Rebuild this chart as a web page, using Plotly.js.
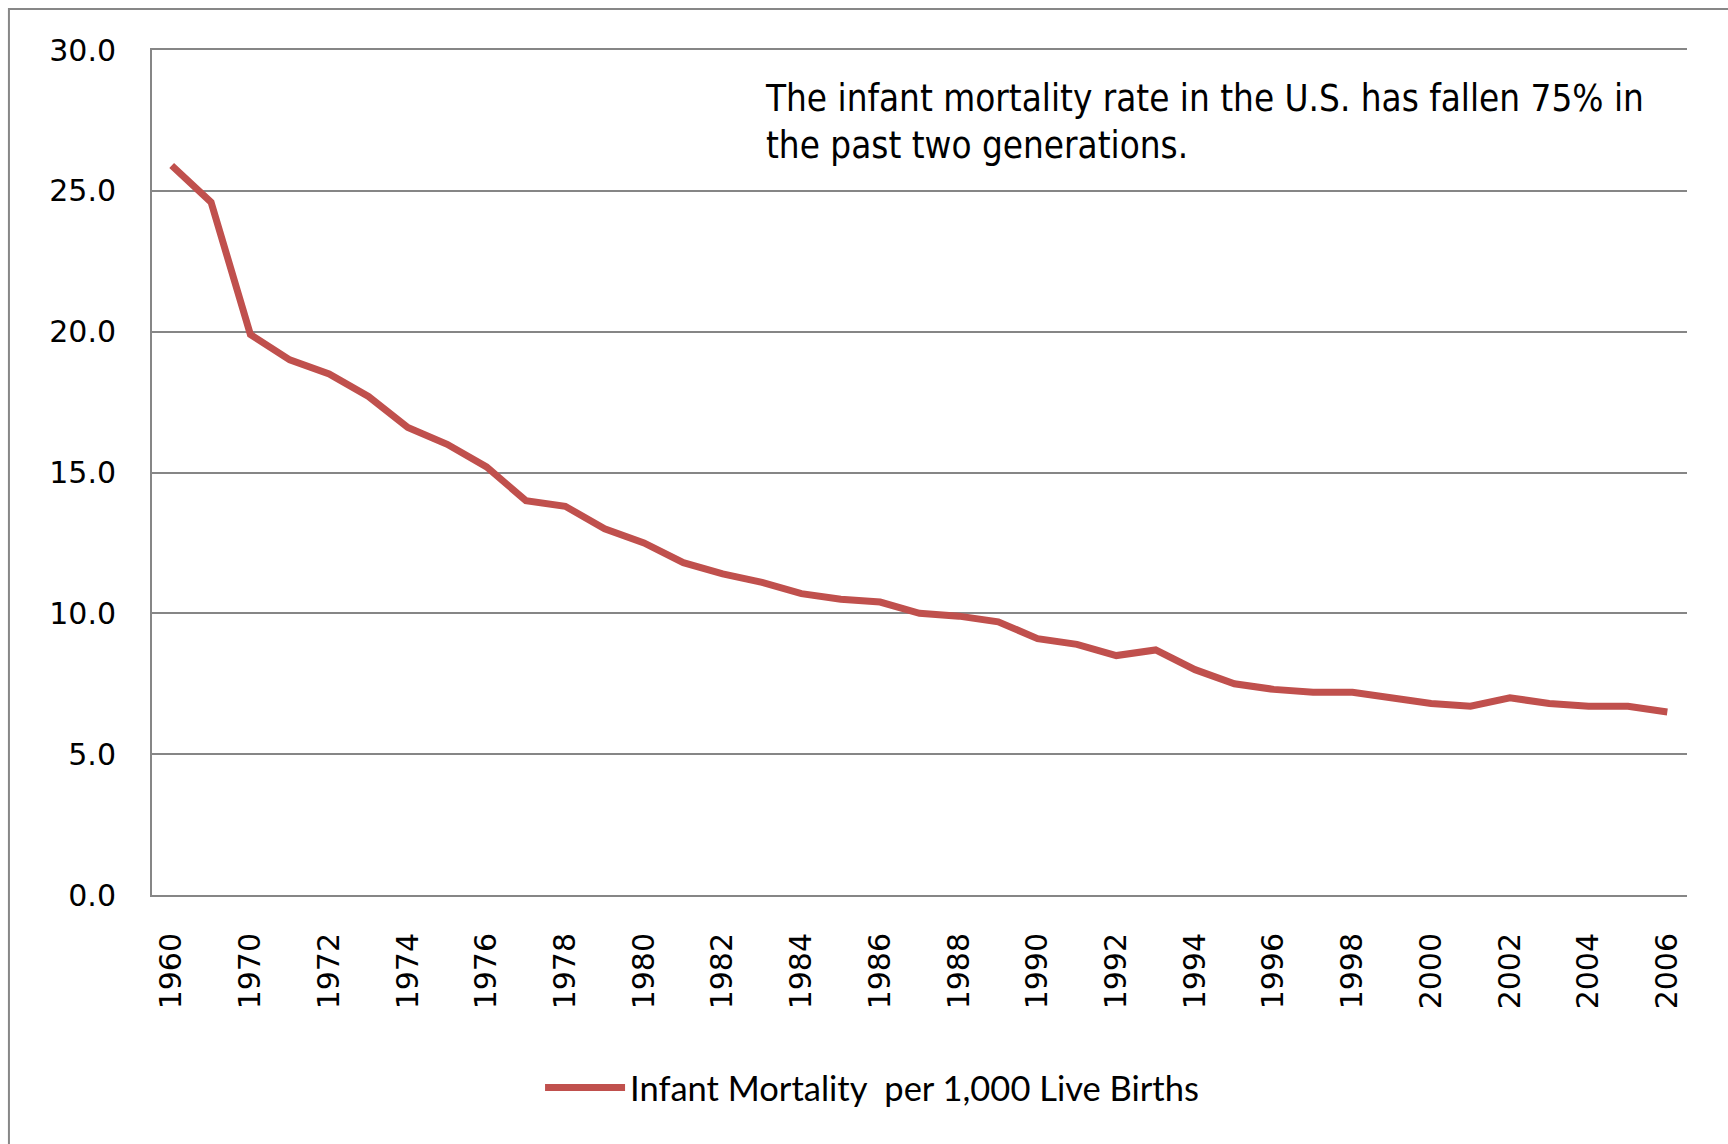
<!DOCTYPE html>
<html>
<head>
<meta charset="utf-8">
<script src="https://cdn.plot.ly/plotly-3.0.1.min.js"></script>
<style>
  html, body { margin: 0; padding: 0; background: #ffffff; }
  #chart { width: 1728px; height: 1144px; }
</style>
</head>
<body>
<div id="chart"></div>
<script>
// ---- data ----
const years = ['1960','1965','1970','1971','1972','1973','1974','1975','1976','1977','1978','1979',
  '1980','1981','1982','1983','1984','1985','1986','1987','1988','1989','1990','1991','1992','1993',
  '1994','1995','1996','1997','1998','1999','2000','2001','2002','2003','2004','2005','2006'];
const mortality = [25.9, 24.6, 19.9, 19.0, 18.5, 17.7, 16.6, 16.0, 15.2, 14.0, 13.8, 13.0,
  12.5, 11.8, 11.4, 11.1, 10.7, 10.5, 10.4, 10.0, 9.9, 9.7, 9.1, 8.9, 8.5, 8.7,
  8.0, 7.5, 7.3, 7.2, 7.2, 7.0, 6.8, 6.7, 7.0, 6.8, 6.7, 6.7, 6.5];
const xTickLabels = years.filter((y, i) => i % 2 === 0);
const yTickVals = [0, 5, 10, 15, 20, 25, 30];
const yTickText = ['0.0', '5.0', '10.0', '15.0', '20.0', '25.0', '30.0'];
const seriesName = 'Infant Mortality  per 1,000 Live Births';
const noteText = 'The infant mortality rate in the U.S. has fallen 75% in<br>the past two generations.';

const grid = '#868686';
const lineColor = '#C0504D';

const trace = {
  type: 'scatter',
  mode: 'lines',
  x: years,
  y: mortality,
  name: seriesName,
  line: { color: lineColor, width: 7 },
  hoverinfo: 'x+y'
};

const layout = {
  width: 1728,
  height: 1144,
  paper_bgcolor: '#ffffff',
  plot_bgcolor: '#ffffff',
  margin: { l: 152, r: 41, t: 50, b: 249 },
  showlegend: true,
  xaxis: {
    type: 'category',
    range: [-0.5, years.length - 0.5],
    tickmode: 'array',
    tickvals: xTickLabels,
    ticktext: xTickLabels,
    tickangle: -90,
    ticks: '',
    ticklabelstandoff: 24,
    showgrid: false,
    showline: true,
    mirror: true,
    linecolor: grid,
    linewidth: 2,
    zeroline: false,
    tickfont: { family: 'DejaVu Sans, sans-serif', size: 30, color: '#000000' }
  },
  yaxis: {
    range: [0, 30],
    tickmode: 'array',
    tickvals: yTickVals,
    ticktext: yTickText,
    ticks: '',
    ticklabelstandoff: 28,
    showgrid: true,
    gridcolor: grid,
    gridwidth: 2,
    showline: true,
    linecolor: grid,
    linewidth: 2,
    zeroline: false,
    tickfont: { family: 'DejaVu Sans, sans-serif', size: 30, color: '#000000' }
  },
  legend: {
    x: 0.2528,
    xanchor: 'left',
    y: -0.228,
    yanchor: 'middle',
    orientation: 'h',
    itemwidth: 80,
    font: { family: 'Lato, sans-serif', size: 34.5, color: '#000000' },
    bgcolor: 'rgba(0,0,0,0)'
  },
  annotations: [{
    xref: 'paper', yref: 'paper',
    x: 0.398, y: 0.970,
    xanchor: 'left', yanchor: 'top',
    align: 'left',
    showarrow: false,
    text: noteText,
    font: { family: 'DejaVu Sans Condensed, DejaVu Sans, sans-serif', size: 36.5, color: '#000000' }
  }],
  shapes: [{
    type: 'rect', xref: 'paper', yref: 'paper',
    x0: -0.0932, x1: 1.3, y0: -0.5, y1: 1.0485,
    line: { color: '#878787', width: 2 },
    fillcolor: 'rgba(0,0,0,0)',
    layer: 'below'
  }]
};

Plotly.newPlot('chart', [trace], layout, { displayModeBar: false, staticPlot: true });
</script>
</body>
</html>
